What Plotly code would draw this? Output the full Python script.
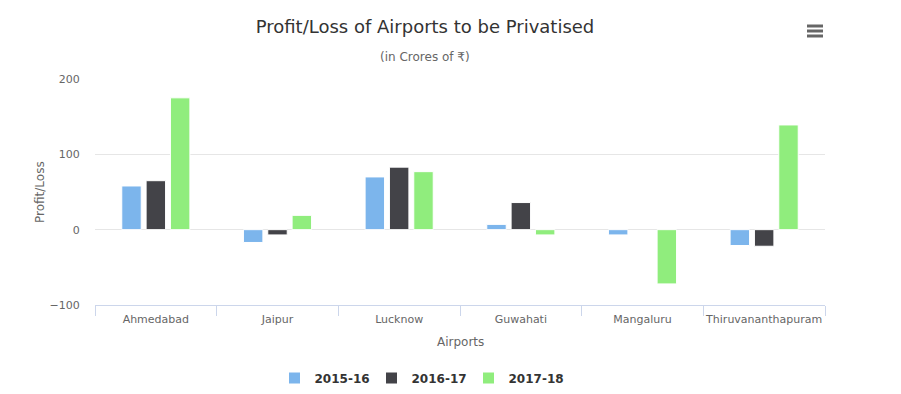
import plotly.graph_objects as go

airports = ["Ahmedabad", "Jaipur", "Lucknow", "Guwahati", "Mangaluru", "Thiruvananthapuram"]
series_names = ["2015-16", "2016-17", "2017-18"]
v_2015_16 = [58, -17, 70, 7, -7, -21]
v_2016_17 = [65, -7, 83, 36, None, -22]
v_2017_18 = [175, 19, 77, -7, -72, 139]
y_ticks = [-100, 0, 100, 200]

colors = ["#7cb5ec", "#434348", "#90ed7d"]
# page body margin offset
OX, OY = 8, 8
W, H = 901 - OX, 394 - OY
L, R, T, B = 95, 825, 79, 305  # plot area in reference pixel coords
PW, PH = R - L, B - T
FONT = "DejaVu Sans"

def px(x):
    return (x - L) / PW

def py(y):
    return (B - y) / PH

fig = go.Figure()
for name, vals, c in zip(series_names, [v_2015_16, v_2016_17, v_2017_18], colors):
    fig.add_trace(go.Bar(x=airports, y=vals, name=name, marker=dict(color=c, line=dict(color="white", width=1))))

shapes = []
for yy in (26, 31, 36):
    shapes.append(dict(type="line", xref="paper", yref="paper", x0=px(807), x1=px(823), y0=py(yy), y1=py(yy),
                       line=dict(color="#666666", width=3)))

fig.update_layout(
    width=W, height=H,
    margin=dict(l=L - OX, r=W - (R - OX), t=T - OY, b=H - (B - OY), autoexpand=False),
    paper_bgcolor="white", plot_bgcolor="white",
    font=dict(family=FONT, color="#666666", size=11),
    barmode="group", bargap=0.4, bargroupgap=0.2,
    title=dict(text="Profit/Loss of Airports to be Privatised", x=(425 - OX) / W, xref="container", xanchor="center",
               y=1 - (27 - OY) / H, yref="container", yanchor="middle",
               font=dict(family=FONT, size=18, color="#333333")),
    showlegend=True,
    legend=dict(orientation="h", x=px(420), xanchor="center", y=py(378), yanchor="middle",
                font=dict(family=FONT, size=12, color="#333333", weight="bold"),
                itemwidth=30, tracegroupgap=0, entrywidth=52),
    xaxis=dict(type="category", tickson="boundaries", ticks="outside", ticklen=10, tickcolor="#ccd6eb",
               showline=True, linecolor="#ccd6eb", linewidth=1, showgrid=False, tickangle=0, automargin=False,
               ticklabelstandoff=4,
               tickfont=dict(family=FONT, size=11, color="#666666")),
    yaxis=dict(range=[-100, 200], tickvals=y_ticks, showgrid=True, gridcolor="#e6e6e6", gridwidth=1,
               zeroline=True, zerolinecolor="#e6e6e6", zerolinewidth=1, automargin=False,
               ticks="outside", ticklen=12, tickcolor="rgba(0,0,0,0)",
               tickfont=dict(family=FONT, size=11, color="#666666")),
    shapes=shapes,
    annotations=[
        dict(text="(in Crores of ₹)", xref="paper", yref="paper", x=px(425), y=py(57), xanchor="center",
             yanchor="middle", showarrow=False, font=dict(family=FONT, size=12, color="#666666")),
        dict(text="Profit/Loss", xref="paper", yref="paper", x=px(40), y=py(192), xanchor="center",
             yanchor="middle", textangle=-90, showarrow=False, font=dict(family=FONT, size=12, color="#666666")),
        dict(text="Airports", xref="paper", yref="paper", x=px(460), y=py(342), xanchor="center",
             yanchor="middle", showarrow=False, font=dict(family=FONT, size=12, color="#666666")),
    ],
)

fig.write_html("out.html")
